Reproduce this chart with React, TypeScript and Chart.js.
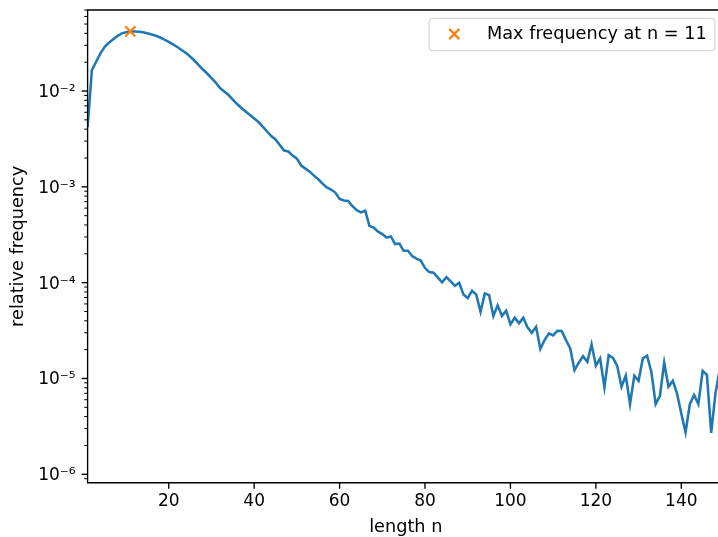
import React, { useEffect, useRef } from "react";
import { Chart, registerables } from "chart.js";

Chart.register(...registerables);

// ---- data ----
const lengthN: number[] = [
  1, 2, 3, 4, 5, 6, 7, 8, 9, 10, 11, 12, 13, 14, 15, 16, 17, 18, 19, 20,
  21, 22, 23, 24, 25, 26, 27, 28, 29, 30, 31, 32, 33, 34, 35, 36, 37, 38, 39, 40,
  41, 42, 43, 44, 45, 46, 47, 48, 49, 50, 51, 52, 53, 54, 55, 56, 57, 58, 59, 60,
  61, 62, 63, 64, 65, 66, 67, 68, 69, 70, 71, 72, 73, 74, 75, 76, 77, 78, 79, 80,
  81, 82, 83, 84, 85, 86, 87, 88, 89, 90, 91, 92, 93, 94, 95, 96, 97, 98, 99, 100,
  101, 102, 103, 104, 105, 106, 107, 108, 109, 110, 111, 112, 113, 114, 115, 116, 117, 118, 119, 120,
  121, 122, 123, 124, 125, 126, 127, 128, 129, 130, 131, 132, 133, 134, 135, 136, 137, 138, 139, 140,
  141, 142, 143, 144, 145, 146, 147, 148, 149,
];

const relFreq: number[] = [
  0.00421, 0.01656, 0.02021, 0.02474, 0.02901, 0.03194, 0.03465, 0.03751, 0.04002, 0.04099,
  0.04199, 0.04179, 0.0415, 0.04099, 0.04002, 0.03889, 0.0377, 0.03619, 0.03448, 0.03263,
  0.03073, 0.02879, 0.02679, 0.02504, 0.02292, 0.02082, 0.01868, 0.01677, 0.01523, 0.01367,
  0.01227, 0.01075, 0.00988, 0.00908, 0.00815, 0.00732, 0.00665, 0.00611, 0.00562, 0.00516,
  0.00475, 0.00426, 0.00378, 0.00339, 0.00312, 0.00273, 0.00239, 0.00234, 0.00212, 0.00197,
  0.00167, 0.00155, 0.00144, 0.00131, 0.0012, 0.00108, 0.000988, 0.000937, 0.000872, 0.000746,
  0.000719, 0.000711, 0.00063, 0.000572, 0.000542, 0.000563, 0.00039, 0.000376, 0.00034, 0.000322,
  0.000296, 0.000304, 0.000253, 0.000256, 0.000215, 0.000215, 0.00019, 0.000178, 0.00017, 0.000142,
  0.000129, 0.000127, 0.000113, 0.000101, 0.000114, 0.000103, 9.28e-5, 9.98e-5, 7.51e-5, 6.9e-5,
  8.23e-5, 7.51e-5, 4.97e-5, 7.73e-5, 7.42e-5, 4.48e-5, 5.8e-5, 4.48e-5, 5.09e-5, 3.67e-5,
  4.3e-5, 3.76e-5, 4.3e-5, 3.42e-5, 3.0e-5, 3.46e-5, 2.03e-5, 2.52e-5, 2.96e-5, 2.82e-5,
  3.15e-5, 3.13e-5, 2.52e-5, 2.06e-5, 1.22e-5, 1.46e-5, 1.71e-5, 1.49e-5, 2.27e-5, 1.36e-5,
  1.62e-5, 8.07e-6, 1.75e-5, 1.64e-5, 1.35e-5, 8.19e-6, 1.07e-5, 5.4e-6, 1.07e-5, 9.46e-6,
  1.62e-5, 1.73e-5, 1.17e-5, 5.4e-6, 6.6e-6, 1.46e-5, 8.19e-6, 9.46e-6, 6.99e-6, 4.32e-6,
  2.74e-6, 5.4e-6, 6.71e-6, 5.4e-6, 1.2e-5, 1.09e-5, 2.71e-6, 6.99e-6, 1.24e-5,
];

const xTickValues: number[] = [20, 40, 60, 80, 100, 120, 140];
const yTickValues: number[] = [1e-6, 1e-5, 1e-4, 1e-3, 1e-2];
const yTickLabels: string[] = ["10\u207B\u2076", "10\u207B\u2075", "10\u207B\u2074", "10\u207B\u00B3", "10\u207B\u00B2"];
const xTitle = "length n";
const yTitle = "relative frequency";
const X_MIN = 1;
const X_MAX = 150;
const Y_MIN = 8.17e-7;
const Y_MAX = 0.0701;

const BLUE = "#1f77b4";
const ORANGE = "#ff7f0e";
const FONT_FAMILY = "'DejaVu Sans', sans-serif";
const TICK_FONT_SIZE = 17;
const LABEL_FONT_SIZE = 17.7;

const CANVAS_W = 724;
const CANVAS_H = 560;
const PLOT_LEFT = 87.6;
const PLOT_TOP = 10;
const PLOT_BOTTOM = 482.7;

let maxIdx = 0;
for (let i = 1; i < relFreq.length; i++) if (relFreq[i] > relFreq[maxIdx]) maxIdx = i;
const maxN = lengthN[maxIdx];
const maxVal = relFreq[maxIdx];
const maxLabel = `Max frequency at n = ${maxN}`;

const framePlugin = {
  id: "frameTicks",
  afterDatasetsDraw(chart: any) {
    const { ctx, chartArea: a, scales } = chart;
    const xs = scales.x;
    const ys = scales.y;
    ctx.save();
    ctx.strokeStyle = "#000";
    ctx.lineCap = "butt";
    // x ticks
    ctx.lineWidth = 1.36;
    for (const v of xTickValues) {
      const px = xs.getPixelForValue(v);
      ctx.beginPath();
      ctx.moveTo(px, a.bottom);
      ctx.lineTo(px, a.bottom + 6);
      ctx.stroke();
    }
    // y ticks (major + minor)
    const eMin = Math.floor(Math.log10(Y_MIN));
    const eMax = Math.ceil(Math.log10(Y_MAX));
    for (let e = eMin; e <= eMax; e++) {
      for (let k = 1; k <= 9; k++) {
        const v = k * Math.pow(10, e);
        if (v < Y_MIN || v > Y_MAX) continue;
        const py = ys.getPixelForValue(v);
        const major = k === 1;
        ctx.lineWidth = major ? 1.36 : 1.0;
        ctx.beginPath();
        ctx.moveTo(a.left, py);
        ctx.lineTo(a.left - (major ? 6 : 3.4), py);
        ctx.stroke();
      }
    }
    // frame
    ctx.lineWidth = 1.36;
    ctx.beginPath();
    ctx.moveTo(a.left, a.bottom);
    ctx.lineTo(a.left, a.top);
    ctx.lineTo(a.right, a.top);
    ctx.lineTo(a.right, a.bottom);
    ctx.closePath();
    ctx.stroke();
    ctx.restore();
  },
};

const legendPlugin = {
  id: "maxLegend",
  afterDatasetsDraw(chart: any) {
    const { ctx, chartArea: a } = chart;
    const ds = chart.data.datasets[1];
    const x0 = a.right - 295;
    const y0 = a.top + 8.3;
    const w = 286;
    const h = 32.4;
    ctx.save();
    ctx.beginPath();
    ctx.roundRect(x0, y0, w, h, 3.4);
    ctx.fillStyle = "rgba(255,255,255,0.8)";
    ctx.fill();
    ctx.lineWidth = 1;
    ctx.strokeStyle = "#cccccc";
    ctx.stroke();
    // marker
    const mx = x0 + 25.3;
    const my = y0 + 15.7;
    const r = 5.1;
    ctx.strokeStyle = ds.pointBorderColor;
    ctx.lineWidth = 2.2;
    ctx.beginPath();
    ctx.moveTo(mx - r, my - r);
    ctx.lineTo(mx + r, my + r);
    ctx.moveTo(mx - r, my + r);
    ctx.lineTo(mx + r, my - r);
    ctx.stroke();
    // text
    ctx.fillStyle = "#000";
    ctx.font = `${LABEL_FONT_SIZE}px ${FONT_FAMILY}`;
    ctx.textAlign = "left";
    ctx.textBaseline = "middle";
    ctx.fillText(ds.label, x0 + 58, my);
    ctx.restore();
  },
};

export default function App() {
  const canvasRef = useRef<HTMLCanvasElement | null>(null);

  useEffect(() => {
    const canvas = canvasRef.current;
    if (!canvas) return;
    const tickFont = { family: FONT_FAMILY, size: TICK_FONT_SIZE };
    const labelFont = { family: FONT_FAMILY, size: LABEL_FONT_SIZE };
    const points = lengthN.map((n, i) => ({ x: n, y: relFreq[i] }));
    const chart = new Chart(canvas, {
      type: "line",
      data: {
        datasets: [
          {
            label: yTitle,
            data: points,
            borderColor: BLUE,
            backgroundColor: BLUE,
            borderWidth: 2.55,
            pointRadius: 0,
            tension: 0,
            fill: false,
            order: 2,
          },
          {
            label: maxLabel,
            data: [{ x: maxN, y: maxVal }],
            showLine: false,
            pointStyle: "crossRot",
            pointRadius: 7.2,
            pointBorderColor: ORANGE,
            pointBackgroundColor: ORANGE,
            pointBorderWidth: 2.2,
            borderColor: ORANGE,
            backgroundColor: ORANGE,
            order: 1,
          },
        ],
      },
      options: {
        responsive: false,
        animation: false,
        devicePixelRatio: 1,
        layout: { padding: { left: 0, right: 0, top: PLOT_TOP, bottom: 0 }, autoPadding: false },
        plugins: { legend: { display: false }, tooltip: { enabled: false } },
        scales: {
          x: {
            type: "linear",
            min: X_MIN,
            max: X_MAX,
            afterBuildTicks: (s: any) => {
              s.ticks = xTickValues.map((v) => ({ value: v }));
            },
            afterFit: (s: any) => {
              s.height = CANVAS_H - PLOT_BOTTOM;
              s.paddingLeft = 0;
              s.paddingRight = 0;
              s.paddingTop = 0;
              s.paddingBottom = 0;
            },
            ticks: { font: tickFont, color: "#000", padding: 2.5, autoSkip: false, maxRotation: 0 },
            grid: { display: true, drawOnChartArea: false, drawTicks: true, tickLength: 6, color: "rgba(0,0,0,0)" },
            border: { display: false },
            title: { display: true, text: xTitle, font: labelFont, color: "#000", padding: { top: 0, bottom: 21.8 } },
          },
          y: {
            type: "logarithmic",
            min: Y_MIN,
            max: Y_MAX,
            afterBuildTicks: (s: any) => {
              s.ticks = yTickValues.map((v) => ({ value: v, major: true }));
            },
            afterFit: (s: any) => {
              s.width = PLOT_LEFT;
              s.paddingLeft = 0;
              s.paddingRight = 0;
              s.paddingTop = 0;
              s.paddingBottom = 0;
            },
            ticks: {
              font: tickFont,
              color: "#000",
              padding: 6,
              autoSkip: false,
              labelOffset: 1.5,
              callback: (_v: any, i: number) => yTickLabels[i],
            },
            grid: { display: true, drawOnChartArea: false, drawTicks: true, tickLength: 6, color: "rgba(0,0,0,0)" },
            border: { display: false },
            title: { display: true, text: yTitle, font: labelFont, color: "#000", padding: { top: 7.8, bottom: 0 } },
          },
        },
      },
      plugins: [framePlugin, legendPlugin],
    } as any);
    return () => chart.destroy();
  }, []);

  return (
    <div
      style={{
        position: "fixed",
        left: 0,
        top: 0,
        width: 718,
        height: 537,
        overflow: "hidden",
        background: "#fff",
      }}
    >
      <canvas
        ref={canvasRef}
        width={CANVAS_W}
        height={CANVAS_H}
        style={{ display: "block", width: CANVAS_W, height: CANVAS_H }}
      />
    </div>
  );
}
